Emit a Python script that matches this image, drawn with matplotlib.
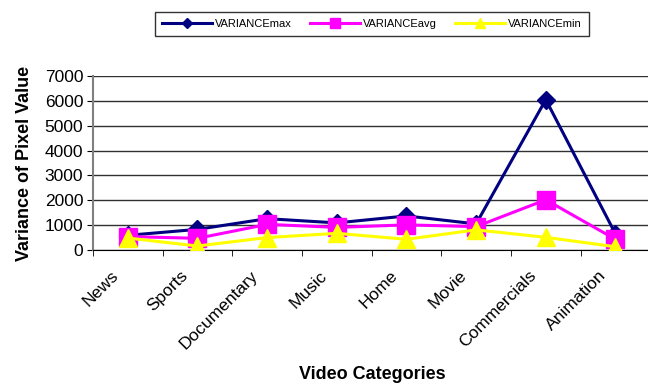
import numpy as np
import matplotlib.pyplot as plt
import matplotlib.transforms as mtransforms
from matplotlib.ticker import FixedLocator

plt.rcParams['font.family'] = ['Liberation Sans', 'DejaVu Sans']

categories = ['News', 'Sports', 'Documentary', 'Music', 'Home', 'Movie', 'Commercials', 'Animation']
var_max = [590, 830, 1260, 1090, 1370, 1050, 6050, 650]
var_avg = [540, 470, 1030, 910, 1010, 940, 2020, 430]
var_min = [480, 160, 500, 670, 430, 810, 510, 130]

fig = plt.figure(figsize=(6.48, 3.84), dpi=100)
ax = fig.add_axes([0.1435, 0.349, 0.86, 0.453])

x = np.arange(len(categories))
ax.plot(x, var_max, color='#000080', lw=2.2, marker='D', ms=9, label='VARIANCEmax', zorder=3)
ax.plot(x, var_avg, color='#FF00FF', lw=2.2, marker='s', ms=13, label='VARIANCEavg', zorder=4)
ax.plot(x, var_min, color='#FFFF00', lw=2.2, marker='^', ms=13, label='VARIANCEmin', zorder=5)

ax.set_xlim(-0.5, len(categories) - 0.5)
ax.set_ylim(0, 7000)
ax.set_yticks(np.arange(0, 7001, 1000))
ax.yaxis.grid(True, color='#303030', lw=1)
ax.set_axisbelow(True)

ax.set_xticks(x)
ax.set_xticklabels(categories, rotation=45, ha='right', va='top', rotation_mode='anchor', fontsize=12.5)
ax.tick_params(axis='x', which='major', length=0, pad=13)
# nudge rotated category labels left of their ticks
shift = mtransforms.ScaledTranslation(-0.17, 0, fig.dpi_scale_trans)
for lbl in ax.get_xticklabels():
    lbl.set_transform(lbl.get_transform() + shift)
ax.xaxis.set_minor_locator(FixedLocator(np.arange(-0.5, len(categories), 1.0)))
ax.tick_params(axis='x', which='minor', length=4, direction='out', color='black')
ax.tick_params(axis='y', length=4, direction='out', labelsize=12.5, pad=3)

for side in ['top', 'right']:
    ax.spines[side].set_visible(False)
ax.spines['left'].set_color('#808080')
ax.spines['left'].set_linewidth(1.5)
ax.spines['bottom'].set_color('black')

ax.set_ylabel('Variance of Pixel Value', fontsize=13, fontweight='bold')
ax.yaxis.set_label_coords(-0.107, 0.5)
fig.text(0.574, 0.014, 'Video Categories', ha='center', va='baseline', fontsize=13, fontweight='bold')

leg = fig.legend(loc='center', bbox_to_anchor=(0.574, 0.9375), ncol=3, fontsize=8,
                 frameon=True, fancybox=False, edgecolor='black', handlelength=4.5,
                 markerscale=0.6, columnspacing=1.6, handletextpad=0.3, borderpad=0.6)
leg.get_frame().set_linewidth(1)

fig.savefig('out.png', dpi=100)
